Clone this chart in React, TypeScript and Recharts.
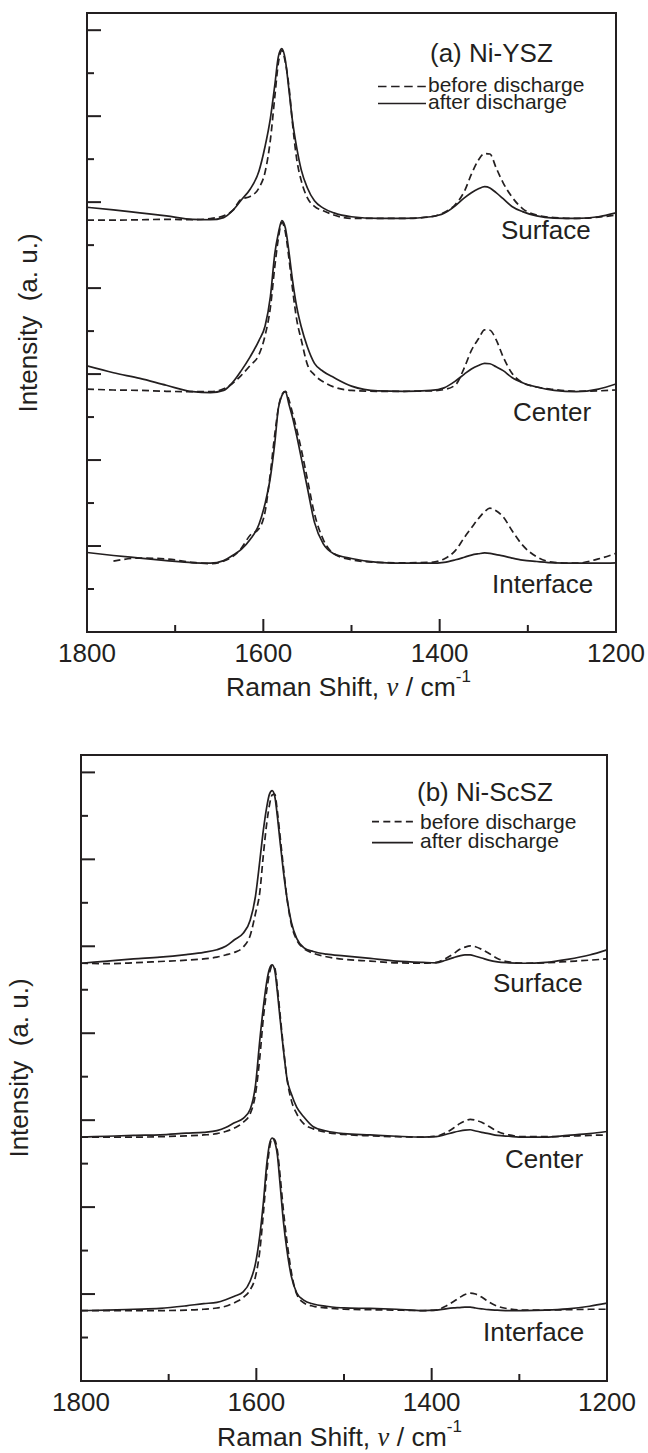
import React from "react";
import { LineChart, Line, XAxis, YAxis, ReferenceArea } from "recharts";

const INK = "#231f20";
const FONT = "'Liberation Sans', Arial, Helvetica, sans-serif";

const SHIFT_TICKS = [1800, 1700, 1600, 1500, 1400, 1300, 1200];
const INTENSITY_TICKS = [1, 2, 3, 4, 5, 6, 7, 8, 9, 10, 11, 12, 13, 14];

// (a) Ni-YSZ, curves stacked with their display offsets
const A_SHIFT = [
  1800, 1770, 1740, 1710, 1680, 1660, 1645, 1635, 1625, 1615, 1605, 1598, 1592, 1587, 1583,
  1579, 1575, 1571, 1567, 1562, 1557, 1550, 1542, 1532, 1520, 1500, 1470, 1440, 1410, 1395,
  1382, 1372, 1364, 1356, 1349, 1343, 1336, 1328, 1318, 1306, 1290, 1270, 1245, 1220, 1200,
];
const A_SURFACE_BEFORE = [
  9.58, 9.58, 9.59, 9.6, 9.59, 9.62, 9.68, 9.8, 10.07, 10.13, 10.33, 10.7, 11.45, 12.45, 13.23,
  13.53, 13.25, 12.7, 11.85, 10.98, 10.5, 10.1, 9.9, 9.8, 9.7, 9.62, 9.62, 9.62, 9.66, 9.76,
  9.95, 10.25, 10.65, 10.98, 11.13, 11.12, 10.8, 10.45, 10.12, 9.85, 9.7, 9.64, 9.62, 9.65, 9.7,
];
const A_SURFACE_AFTER = [
  9.88, 9.82, 9.75, 9.68, 9.6, 9.59, 9.64, 9.8, 10.05, 10.3, 10.72, 11.3, 11.95, 12.72, 13.38,
  13.57, 13.3, 12.62, 11.9, 11.25, 10.75, 10.33, 10.03, 9.86, 9.75, 9.66, 9.62, 9.62, 9.66, 9.74,
  9.92, 10.1, 10.22, 10.31, 10.36, 10.33, 10.22, 10.08, 9.9, 9.78, 9.68, 9.63, 9.62, 9.66, 9.75,
];
const A_CENTER_BEFORE = [
  5.65, 5.63, 5.62, 5.6, 5.59, 5.59, 5.66, 5.78, 5.97, 6.2, 6.45, 6.9, 7.55, 8.5, 9.15,
  9.53, 9.3, 8.7, 8.0, 7.25, 6.8, 6.22, 5.98, 5.82, 5.7, 5.62, 5.6, 5.6, 5.61, 5.64,
  5.75, 6.15, 6.55, 6.82, 7.03, 7.02, 6.8, 6.4, 6.02, 5.8, 5.7, 5.64, 5.6, 5.61, 5.63,
];
const A_CENTER_AFTER = [
  6.19, 6.03, 5.9, 5.74, 5.59, 5.57, 5.62, 5.8, 6.08, 6.4, 6.78, 7.12, 7.8, 8.8, 9.27,
  9.57, 9.4, 8.85, 8.2, 7.55, 7.1, 6.63, 6.25, 6.06, 5.92, 5.72, 5.61, 5.6, 5.62, 5.68,
  5.84, 6.0, 6.12, 6.2, 6.25, 6.24, 6.17, 6.08, 5.92, 5.8, 5.7, 5.62, 5.59, 5.65, 5.77,
];
const A_INTERFACE_BEFORE = [
  null, 1.65, 1.72, 1.7, 1.62, 1.59, 1.65, 1.75, 1.95, 2.25, 2.4, 2.8, 3.7, 4.6, 5.2,
  5.52, 5.6, 5.4, 5.1, 4.7, 4.25, 3.55, 2.75, 2.15, 1.82, 1.68, 1.62, 1.61, 1.62, 1.7,
  1.9, 2.2, 2.42, 2.64, 2.8, 2.88, 2.82, 2.68, 2.36, 2.02, 1.75, 1.62, 1.6, 1.7, 1.83,
];
const A_INTERFACE_AFTER = [
  1.85, 1.78, 1.72, 1.66, 1.61, 1.6, 1.66, 1.78, 1.92, 2.15, 2.5, 2.99, 3.6, 4.4, 5.2,
  5.5, 5.59, 5.3, 5.0, 4.55, 4.05, 3.35, 2.55, 2.05, 1.82, 1.71, 1.62, 1.6, 1.6, 1.62,
  1.68, 1.74, 1.79, 1.82, 1.84, 1.83, 1.8, 1.77, 1.72, 1.67, 1.64, 1.61, 1.6, 1.6, 1.61,
];

// (b) Ni-ScSZ
const B_SHIFT = [
  1800, 1770, 1740, 1710, 1680, 1660, 1645, 1635, 1625, 1615, 1607, 1601, 1596, 1592, 1588,
  1585, 1582, 1579, 1576, 1573, 1569, 1565, 1560, 1554, 1546, 1535, 1520, 1500, 1470, 1440,
  1410, 1395, 1384, 1375, 1368, 1362, 1356, 1350, 1343, 1335, 1325, 1312, 1295, 1270, 1245,
  1220, 1200,
];
const B_SURFACE_BEFORE = [
  9.61, 9.6, 9.62, 9.65, 9.68, 9.71, 9.75, 9.8, 9.86, 9.98, 10.25, 10.75, 11.25, 12.1, 12.85,
  13.25, 13.48, 13.5, 13.1, 12.55, 11.8, 11.1, 10.5, 10.15, 9.95, 9.84, 9.76, 9.7, 9.66, 9.62,
  9.61, 9.63, 9.72, 9.83, 9.93, 9.98, 10.01, 9.99, 9.93, 9.84, 9.72, 9.64, 9.61, 9.62, 9.65,
  9.68, 9.71,
];
const B_SURFACE_AFTER = [
  9.61, 9.66, 9.71, 9.75, 9.81, 9.86, 9.92, 10.0, 10.15, 10.3, 10.6, 11.15, 11.97, 12.67, 13.22,
  13.5, 13.58, 13.45, 12.99, 12.42, 11.7, 11.1, 10.55, 10.18, 9.97, 9.88, 9.82, 9.78, 9.72, 9.66,
  9.63, 9.62, 9.68, 9.74, 9.78, 9.8, 9.8, 9.77, 9.73, 9.68, 9.64, 9.62, 9.61, 9.63, 9.7,
  9.8, 9.92,
];
const B_CENTER_BEFORE = [
  5.61, 5.61, 5.61, 5.62, 5.64, 5.66, 5.69, 5.74, 5.82, 5.95, 6.15, 6.6, 7.45, 8.35, 9.0,
  9.38, 9.55, 9.5, 9.05, 8.45, 7.65, 6.95, 6.45, 6.15, 5.92, 5.8, 5.72, 5.67, 5.64, 5.62,
  5.61, 5.63, 5.71, 5.82, 5.92, 5.98, 6.02, 6.0, 5.95, 5.86, 5.74, 5.66, 5.62, 5.62, 5.63,
  5.65, 5.66,
];
const B_CENTER_AFTER = [
  5.61, 5.63, 5.65, 5.66, 5.7, 5.72, 5.76, 5.83, 5.94, 6.04, 6.25, 6.8, 7.85, 8.6, 9.2,
  9.48, 9.57, 9.45, 8.95, 8.35, 7.6, 6.95, 6.6, 6.3, 6.08, 5.85, 5.75, 5.69, 5.66, 5.63,
  5.61, 5.62, 5.67, 5.72, 5.75, 5.77, 5.78, 5.75, 5.72, 5.69, 5.65, 5.63, 5.61, 5.61, 5.65,
  5.69, 5.74,
];
const B_INTERFACE_BEFORE = [
  1.62, 1.62, 1.62, 1.62, 1.63, 1.65, 1.68, 1.72, 1.8, 1.92, 2.1, 2.4, 3.0, 3.85, 4.8,
  5.35, 5.58, 5.55, 5.3, 4.75, 3.9, 3.2, 2.5, 2.0, 1.8, 1.72, 1.68, 1.65, 1.64, 1.63,
  1.62, 1.63, 1.72, 1.83, 1.92, 1.99, 2.02, 2.0, 1.93, 1.82, 1.72, 1.66, 1.63, 1.63, 1.64,
  1.65, 1.65,
];
const B_INTERFACE_AFTER = [
  1.62, 1.63, 1.65, 1.67, 1.73, 1.78, 1.81, 1.87, 1.95, 2.05, 2.3, 2.7, 3.35, 4.1, 5.01,
  5.45, 5.59, 5.5, 5.2, 4.55, 3.65, 3.0, 2.4, 2.03, 1.86, 1.77, 1.72, 1.68, 1.67, 1.65,
  1.62, 1.63, 1.66, 1.68, 1.69, 1.7, 1.7, 1.68, 1.66, 1.64, 1.63, 1.62, 1.62, 1.63, 1.66,
  1.72, 1.79,
];

type Series = { key: string; values: (number | null)[]; dashed: boolean };

const A_SERIES: Series[] = [
  { key: "surfaceBefore", values: A_SURFACE_BEFORE, dashed: true },
  { key: "surfaceAfter", values: A_SURFACE_AFTER, dashed: false },
  { key: "centerBefore", values: A_CENTER_BEFORE, dashed: true },
  { key: "centerAfter", values: A_CENTER_AFTER, dashed: false },
  { key: "interfaceBefore", values: A_INTERFACE_BEFORE, dashed: true },
  { key: "interfaceAfter", values: A_INTERFACE_AFTER, dashed: false },
];
const B_SERIES: Series[] = [
  { key: "surfaceBefore", values: B_SURFACE_BEFORE, dashed: true },
  { key: "surfaceAfter", values: B_SURFACE_AFTER, dashed: false },
  { key: "centerBefore", values: B_CENTER_BEFORE, dashed: true },
  { key: "centerAfter", values: B_CENTER_AFTER, dashed: false },
  { key: "interfaceBefore", values: B_INTERFACE_BEFORE, dashed: true },
  { key: "interfaceAfter", values: B_INTERFACE_AFTER, dashed: false },
];

function buildRows(shift: number[], series: Series[]) {
  return shift.map((s, i) => {
    const row: Record<string, number | null> = { shift: s };
    series.forEach((sr) => {
      row[sr.key] = sr.values[i];
    });
    return row;
  });
}

// ticks point inward; long ticks on labelled values
const XTick = (props: any) => {
  const { x, y, payload } = props;
  const major = payload.value % 200 === 0;
  return (
    <g>
      <line x1={x} x2={x} y1={y} y2={y - (major ? 13 : 7)} stroke={INK} strokeWidth={2} />
      {major && (
        <text x={x} y={y + 30} textAnchor="middle" fontSize={26} fontFamily={FONT} fill={INK}>
          {payload.value}
        </text>
      )}
    </g>
  );
};

const YTick = (props: any) => {
  const { x, y, payload } = props;
  const len = payload.value % 2 === 0 ? 14 : 7;
  return <line x1={x} x2={x + len} y1={y} y2={y} stroke={INK} strokeWidth={2} />;
};

function Panel({ top, height, margin, shift, series }: any) {
  const rows = buildRows(shift, series);
  return (
    <div style={{ position: "absolute", left: 0, top, width: 648, height }}>
      <LineChart width={648} height={height} data={rows} margin={margin}>
        <XAxis
          dataKey="shift"
          type="number"
          domain={[1200, 1800]}
          reversed
          ticks={SHIFT_TICKS}
          interval={0}
          height={1}
          tickSize={0}
          tickMargin={0}
          tickLine={false}
          axisLine={false}
          tick={XTick}
          allowDataOverflow
        />
        <YAxis
          type="number"
          domain={[0, 14.4]}
          ticks={INTENSITY_TICKS}
          interval={0}
          width={1}
          tickSize={0}
          tickMargin={0}
          tickLine={false}
          axisLine={false}
          tick={YTick}
          allowDataOverflow
        />
        <ReferenceArea
          x1={1200}
          x2={1800}
          y1={0}
          y2={14.4}
          fill="none"
          stroke={INK}
          strokeWidth={2}
          ifOverflow="visible"
        />
        {series.map((sr: Series) => (
          <Line
            key={sr.key}
            dataKey={sr.key}
            type="monotone"
            stroke={INK}
            strokeWidth={1.7}
            strokeDasharray={sr.dashed ? "7 4" : undefined}
            dot={false}
            activeDot={false}
            isAnimationActive={false}
          />
        ))}
      </LineChart>
    </div>
  );
}

function Txt({ x, baseline, size, lh, children }: any) {
  const line = lh ?? size;
  const baseOffset = (line - 1.117 * size) / 2 + 0.905 * size;
  return (
    <div
      style={{
        position: "absolute",
        left: x,
        top: baseline - baseOffset,
        fontSize: size,
        lineHeight: `${line}px`,
        fontFamily: FONT,
        color: INK,
        whiteSpace: "pre",
      }}
    >
      {children}
    </div>
  );
}

function Sample({ x1, x2, y, dash }: any) {
  return (
    <svg style={{ position: "absolute", left: 0, top: 0, overflow: "visible" }} width={1} height={1}>
      <line x1={x1} x2={x2} y1={y} y2={y} stroke={INK} strokeWidth={1.7} strokeDasharray={dash} />
    </svg>
  );
}

// two legend rows in one block
function LegendText({ x, baseline, gap }: any) {
  return (
    <Txt x={x} baseline={baseline} size={21} lh={gap}>
      {"before discharge\nafter discharge"}
    </Txt>
  );
}

function XTitle({ x, baseline }: any) {
  return (
    <Txt x={x} baseline={baseline} size={26.5}>
      {"Raman Shift, "}
      <span style={{ fontFamily: "'Liberation Serif', serif", fontStyle: "italic" }}>ν</span>
      {" / cm"}
      <span style={{ fontSize: 17, position: "relative", top: -14 }}>-1</span>
    </Txt>
  );
}

function YTitle({ cx, cy }: any) {
  return (
    <div
      style={{
        position: "absolute",
        left: cx,
        top: cy,
        transform: "translate(-50%, -50%) rotate(-90deg)",
        fontSize: 26,
        lineHeight: "26px",
        fontFamily: FONT,
        color: INK,
        whiteSpace: "pre",
      }}
    >
      {"Intensity  (a. u.)"}
    </div>
  );
}

export default function App() {
  return (
    <div
      style={{
        position: "absolute",
        left: 0,
        top: 0,
        width: 648,
        height: 1453,
        background: "#fff",
        overflow: "hidden",
      }}
    >
      <Panel
        top={0}
        height={720}
        margin={{ top: 13, right: 32, bottom: 87, left: 86 }}
        shift={A_SHIFT}
        series={A_SERIES}
      />
      <Txt x={430} baseline={62.5} size={26}>(a) Ni-YSZ</Txt>
      <Sample x1={378} x2={426} y={86.5} dash="8.5 4.6" />
      <Sample x1={378} x2={426} y={103.5} />
      <LegendText x={428} baseline={92} gap={17} />
      <Txt x={501} baseline={239} size={26}>Surface</Txt>
      <Txt x={513} baseline={421.5} size={26}>Center</Txt>
      <Txt x={492} baseline={593} size={26}>Interface</Txt>
      <XTitle x={226} baseline={696} />
      <YTitle cx={28} cy={323} />

      <Panel
        top={735}
        height={700}
        margin={{ top: 20, right: 41, bottom: 53, left: 80 }}
        shift={B_SHIFT}
        series={B_SERIES}
      />
      <Txt x={417} baseline={801} size={26}>(b) Ni-ScSZ</Txt>
      <Sample x1={372} x2={413} y={821.7} dash="7 4.3" />
      <Sample x1={372} x2={413} y={842.7} />
      <LegendText x={420} baseline={829} gap={19} />
      <Txt x={493} baseline={992} size={26}>Surface</Txt>
      <Txt x={505} baseline={1168} size={26}>Center</Txt>
      <Txt x={483} baseline={1341.5} size={26}>Interface</Txt>
      <XTitle x={217} baseline={1446} />
      <YTitle cx={19} cy={1068} />
    </div>
  );
}
